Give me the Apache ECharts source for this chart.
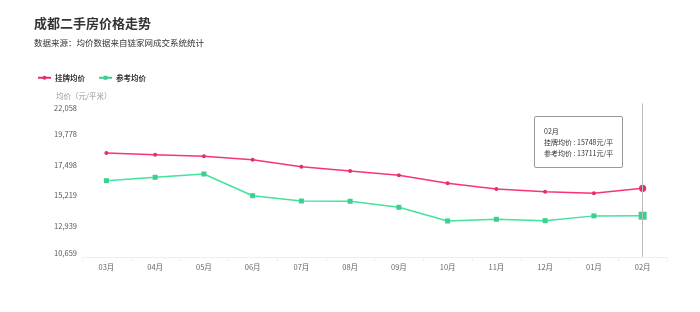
<!DOCTYPE html>
<html><head><meta charset="utf-8">
<script src="https://cdn.jsdelivr.net/npm/echarts@6/dist/echarts.min.js"></script>
<style>html,body{margin:0;padding:0;background:#fff}#c{width:700px;height:312px}</style>
</head><body><div id="c"></div>
<script>
const categories = ['03月','04月','05月','06月','07月','08月','09月','10月','11月','12月','01月','02月'];
const listingPrice = [18373,18246,18128,17875,17355,17035,16716,16121,15698,15497,15378,15748];
const referencePrice = [16315,16567,16812,15200,14806,14784,14338,13320,13447,13343,13700,13711];
const yTicks = [10659,12939,15219,17498,19778,22058];
const seriesNames = ['挂牌均价','参考均价'];
const FONT = '"Noto Sans CJK SC", sans-serif';
const RED = '#e3306a', GREEN = '#3ccf8f';
const chart = echarts.init(document.getElementById('c'), null, {renderer:'canvas'});
const fmt = v => Math.round(v).toLocaleString('en-US');
chart.setOption({
  animation:false,
  textStyle:{fontFamily:FONT},
  title:{text:'成都二手房价格走势', subtext:'数据来源：均价数据来自链家网成交系统统计', left:29, top:12, itemGap:9,
    textStyle:{fontSize:13, fontWeight:'bold', color:'#333', fontFamily:FONT},
    subtextStyle:{fontSize:8.5, color:'#333', fontFamily:FONT}},
  legend:{data:seriesNames, left:32, top:69, itemWidth:13, itemHeight:5, itemGap:13,
    textStyle:{fontSize:7.5, color:'#333', fontWeight:'bold', fontFamily:FONT, padding:[0,0,0,-1]}},
  grid:{left:82, right:33, top:103.4, bottom:55.2},
  tooltip:{trigger:'axis', alwaysShowContent:true, position:[534,116],
    backgroundColor:'#fff', borderColor:'#999', borderWidth:1, borderRadius:2, padding:[9,9,8,9],
    extraCssText:'box-shadow:none;line-height:11px;',
    textStyle:{fontSize:7, color:'#333', fontFamily:FONT},
    axisPointer:{type:'line', lineStyle:{color:'#bbb', width:1, type:'solid'}},
    formatter: ps => ps[0].name + '<br/>' + ps.map(p => p.seriesName + ' : ' + p.value + '元/平').join('<br/>')},
  xAxis:{type:'category', data:categories, boundaryGap:true,
    axisLine:{lineStyle:{color:'#eee'}}, axisTick:{show:true, lineStyle:{color:'#f2f2f2'}},
    axisLabel:{fontSize:7.5, color:'#666', margin:7}},
  yAxis:{type:'value', min:yTicks[0], max:yTicks[yTicks.length-1],
    name:'均价（元/平米）', nameLocation:'end', nameGap:3,
    nameTextStyle:{fontSize:7.5, color:'#999', align:'left', padding:[0,0,0,-26]},
    axisLine:{show:false}, axisTick:{show:false}, splitLine:{show:false},
    axisLabel:{customValues:yTicks, fontSize:7.5, color:'#555', margin:5,
      formatter: v => v === yTicks[yTicks.length-1] ? '{t|'+fmt(v)+'}' : (v === yTicks[0] ? '{b|'+fmt(v)+'}' : fmt(v)),
      rich:{t:{fontSize:7.5, color:'#555', padding:[9,0,0,0]}, b:{fontSize:7.5, color:'#555', padding:[0,0,7,0]}}}},
  series:[
    {name:seriesNames[0], type:'line', data:listingPrice, symbol:'circle', symbolSize:4,
      itemStyle:{color:RED}, lineStyle:{color:RED, width:1.5},
      emphasis:{scale:1.8, itemStyle:{borderWidth:0, color:RED}, lineStyle:{width:1.5}}},
    {name:seriesNames[1], type:'line', data:referencePrice, symbol:'rect', symbolSize:5,
      itemStyle:{color:GREEN}, lineStyle:{color:GREEN, width:1.5},
      emphasis:{scale:1.6, itemStyle:{borderWidth:0, color:GREEN}, lineStyle:{width:1.5}}}
  ]
});
chart.dispatchAction({type:'showTip', seriesIndex:0, dataIndex:11});
</script></body></html>
